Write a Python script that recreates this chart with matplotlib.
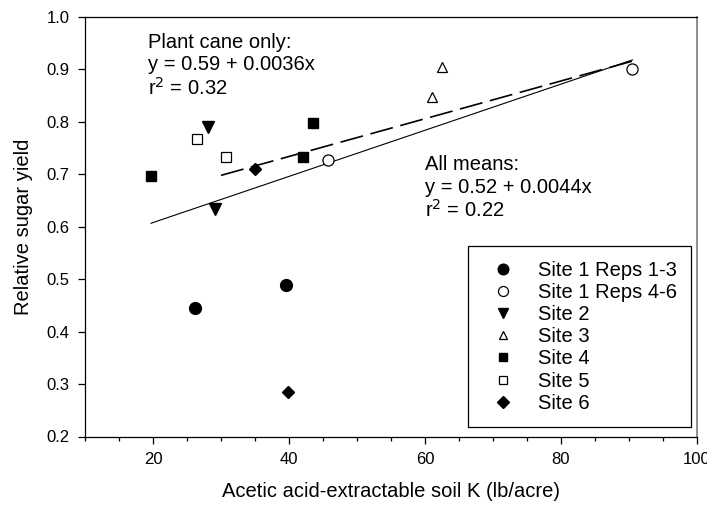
import matplotlib
matplotlib.use("Agg")
import matplotlib.pyplot as plt
from matplotlib.ticker import MultipleLocator, FormatStrFormatter
import numpy as np

plt.rcParams["font.family"] = ["Liberation Sans", "DejaVu Sans"]

# data
site1a_x = [26.2, 39.5]
site1a_y = [0.445, 0.489]
site1b_x = [45.8, 90.5]
site1b_y = [0.727, 0.901]
site2_x = [28.1, 29.1]
site2_y = [0.791, 0.633]
site3_x = [61.1, 62.5]
site3_y = [0.848, 0.905]
site4_x = [19.7, 42.1, 43.6]
site4_y = [0.697, 0.733, 0.797]
site5_x = [26.5, 30.8]
site5_y = [0.767, 0.733]
site6_x = [35.0, 39.8]
site6_y = [0.711, 0.285]

# regression fits (intercept, slope) and x range drawn
all_means_fit = [0.52, 0.0044]
all_means_range = [19.7, 90.5]
plant_cane_fit = [0.59, 0.0036]
plant_cane_range = [30.0, 90.5]

fig = plt.figure(figsize=(7.07, 5.05), dpi=100)
ax = fig.add_axes([85 / 707, 1 - 436.5 / 505, 612 / 707, 419.5 / 505])

# fit lines
xs = np.array(all_means_range)
ax.plot(xs, all_means_fit[0] + all_means_fit[1] * xs, color="black", lw=0.8, zorder=2)
xs = np.array(plant_cane_range)
ax.plot(xs, plant_cane_fit[0] + plant_cane_fit[1] * xs, color="black", lw=1.2,
        dashes=(14.0, 4.6), zorder=2)

filled = dict(color="black", linestyle="none", zorder=3)
hollow = dict(markerfacecolor="white", markeredgecolor="black", markeredgewidth=0.9,
              linestyle="none", zorder=3)

ax.plot(site1a_x, site1a_y, marker="o", markersize=8.5, label="Site 1 Reps 1-3", **filled)
ax.plot(site1b_x, site1b_y, marker="o", markersize=8.0, label="Site 1 Reps 4-6", **hollow)
ax.plot(site2_x, site2_y, marker="v", markersize=8.0, label="Site 2", **filled)
ax.plot(site3_x, site3_y, marker="^", markersize=6.5, label="Site 3", **hollow)
ax.plot(site4_x, site4_y, marker="s", markersize=7.0, label="Site 4", **filled)
ax.plot(site5_x, site5_y, marker="s", markersize=6.5, label="Site 5", **hollow)
ax.plot(site6_x, site6_y, marker="D", markersize=6.5, label="Site 6", **filled)

ax.set_xlim(10, 100)
ax.set_ylim(0.2, 1.0)
ax.set_xticks([20, 40, 60, 80, 100])
ax.xaxis.set_minor_locator(MultipleLocator(5))
ax.yaxis.set_major_locator(MultipleLocator(0.1))
ax.yaxis.set_major_formatter(FormatStrFormatter("%.1f"))
ax.tick_params(axis="both", which="major", direction="out", length=5, width=0.9,
               labelsize=12, pad=6)
ax.tick_params(axis="x", which="minor", direction="out", length=3, width=0.9)
ax.tick_params(top=False, right=False)

for side in ["left", "bottom", "top"]:
    ax.spines[side].set_linewidth(0.9)
ax.spines["right"].set_linewidth(1.1)
ax.spines["right"].set_color("#707070")

ax.set_xlabel("Acetic acid-extractable soil K (lb/acre)", fontsize=14.5, labelpad=11)
ax.set_ylabel("Relative sugar yield", fontsize=14.5, labelpad=10)

txt = dict(fontsize=14.5, ha="left", va="baseline")
ax.text(19.3, 0.940, "Plant cane only:", **txt)
ax.text(19.3, 0.899, "y = 0.59 + 0.0036x", **txt)
ax.text(19.3, 0.852, "r$^2$ = 0.32", **txt)
ax.text(60.0, 0.708, "All means:", **txt)
ax.text(60.0, 0.665, "y = 0.52 + 0.0044x", **txt)
ax.text(60.0, 0.619, "r$^2$ = 0.22", **txt)

leg = ax.legend(loc="lower right", bbox_to_anchor=(0.990, 0.0226), fontsize=14.5,
                frameon=True, fancybox=False, edgecolor="black", framealpha=1,
                borderpad=0.7, labelspacing=0.16, handlelength=2.0,
                handletextpad=0.75, borderaxespad=0, markerscale=0.9)
leg.get_frame().set_linewidth(0.9)

fig.savefig("out.png", dpi=100)
